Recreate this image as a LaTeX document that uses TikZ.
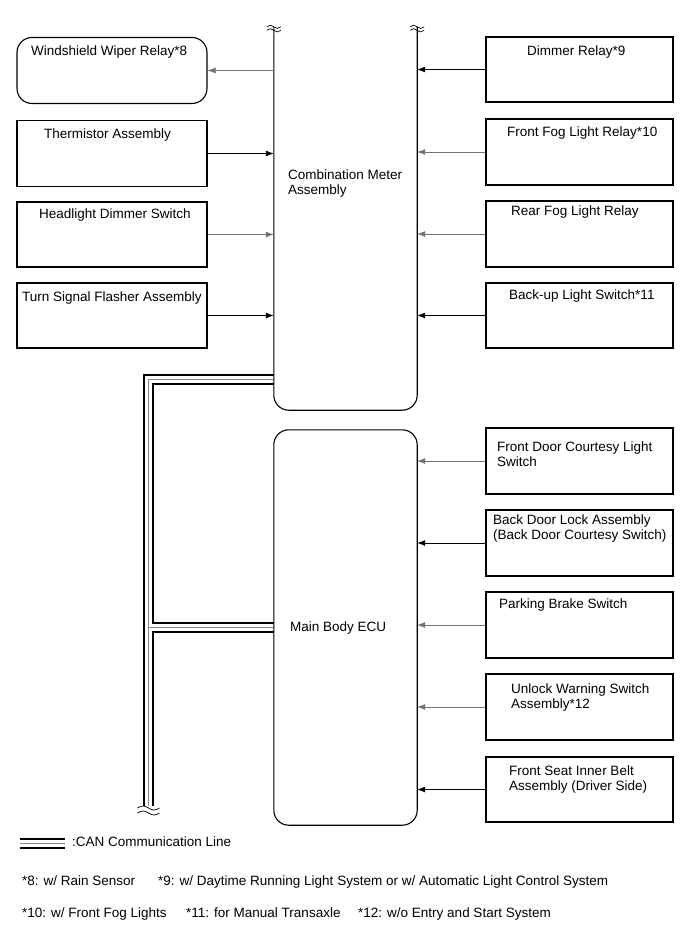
\documentclass[tikz,border=0pt]{standalone}
\usepackage{fontspec}
\setmainfont{Liberation Sans}
\usetikzlibrary{arrows.meta}
\begin{document}
\begin{tikzpicture}[x=1pt,y=-1pt,
  lbox/.style={draw, line width=1.1pt, minimum width=190pt, minimum height=66pt, inner sep=0pt},
  rbox/.style={draw, line width=1.1pt, minimum width=187pt, minimum height=66pt, inner sep=0pt},
  lbl/.style={anchor=north west, inner sep=0pt, font=\fontsize{13.5}{14.5}\selectfont, align=left},
  arr/.style={line width=0.8pt, -{Latex[length=8pt,width=6pt]}},
  garr/.style={arr, draw=black!55},
  brk/.pic={\draw[line width=0.7pt] (-7,0) sin (-3.5,-1.6) cos (0,0) sin (3.5,1.6) cos (7,0);
            \draw[line width=0.7pt] (-7,3.5) sin (-3.5,1.9) cos (0,3.5) sin (3.5,5.1) cos (7,3.5);},
  bbrk/.pic={\draw[line width=0.7pt] (-11,0) sin (-5.5,-2) cos (0,0) sin (5.5,2) cos (11,0);
            \draw[line width=0.7pt] (-11,5) sin (-5.5,3) cos (0,5) sin (5.5,7) cos (11,5);}
]
\useasboundingbox[fill=white] (0,0) rectangle (691,952);

% central units
\node[draw=none, minimum width=143pt, minimum height=383pt, inner sep=0pt] (meter) at (345.5,218.5) {};
\node[draw=none, minimum width=143pt, minimum height=395pt, inner sep=0pt] (ecu) at (345.5,627.5) {};

% CAN communication line
\coordinate (canTop) at (148.5,379);
\coordinate (canBr) at (148.5,627);
\coordinate (canBot) at (148.5,806);
\coordinate (legA) at (20,843);
\coordinate (legB) at (65,843);
\foreach \w/\c in {11/black,7/white,1/black!45}{
  \draw[line width=\w pt, draw=\c, line join=miter] (meter.west |- canTop) -- (canTop) -- (canBot);
  \draw[line width=\w pt, draw=\c] (canBr) -- (ecu.west |- canBr);
  \draw[line width=\w pt, draw=\c] (legA) -- (legB);
}
\pic at (148.5,808) {bbrk};

% meter outline (open top) and ECU outline
\draw[line width=1.1pt, rounded corners=15pt] (meter.north west) -- (meter.south west) -- (meter.south east) -- (meter.north east);
\pic at (meter.north west) {brk};
\pic at (meter.north east) {brk};
\draw[line width=1.1pt, rounded corners=15pt] (ecu.south west) rectangle (ecu.north east);

\node[lbl] (meterT) at (288,170) {Combination Meter\\Assembly};
\node[lbl] (ecuT) at (290,622) {Main Body ECU};

% left boxes
\node[lbox, rounded corners=15pt] (wiper) at (112,70.5) {};
\node[lbox] (therm) at (112,153.5) {};
\node[lbox, minimum height=65pt] (head) at (112,234.5) {};
\node[lbox, minimum height=65pt] (turn) at (112,315.5) {};
\node[lbl] (wiperT) at (31,46) {Windshield Wiper Relay*8};
\node[lbl] (thermT) at (44,129) {Thermistor Assembly};
\node[lbl] (headT) at (39,209) {Headlight Dimmer Switch};
\node[lbl] (turnT) at (22,292) {Turn Signal Flasher Assembly};

% right boxes
\node[rbox, minimum height=65pt] (dim) at (579.5,69.5) {};
\node[rbox] (ffog) at (579.5,152) {};
\node[rbox] (rfog) at (579.5,234) {};
\node[rbox, minimum height=65pt] (back) at (579.5,315.5) {};
\node[rbox] (fdoor) at (579.5,461) {};
\node[rbox] (bdoor) at (579.5,543) {};
\node[rbox] (park) at (579.5,625) {};
\node[rbox] (unlock) at (579.5,707) {};
\node[rbox, minimum height=65pt] (seat) at (579.5,789.5) {};
\node[lbl] (dimT) at (527,46) {Dimmer Relay*9};
\node[lbl] (ffogT) at (507,127) {Front Fog Light Relay*10};
\node[lbl] (rfogT) at (511,206) {Rear Fog Light Relay};
\node[lbl] (backT) at (509,290) {Back-up Light Switch*11};
\node[lbl] (fdoorT) at (497,442) {Front Door Courtesy Light\\Switch};
\node[lbl] (bdoorT) at (493,515) {Back Door Lock Assembly\\(Back Door Courtesy Switch)};
\node[lbl] (parkT) at (499,599) {Parking Brake Switch};
\node[lbl] (unlockT) at (511,684) {Unlock Warning Switch\\Assembly*12};
\node[lbl] (seatT) at (509,766) {Front Seat Inner Belt\\Assembly (Driver Side)};

% connectors
\draw[garr] (meter.west |- wiper.east) -- (wiper.east);
\draw[arr] (therm.east) -- (therm.east -| meter.west);
\draw[garr] (head.east) -- (head.east -| meter.west);
\draw[arr] (turn.east) -- (turn.east -| meter.west);
\draw[arr] (dim.west) -- (dim.west -| meter.east);
\draw[garr] (ffog.west) -- (ffog.west -| meter.east);
\draw[garr] (rfog.west) -- (rfog.west -| meter.east);
\draw[arr] (back.west) -- (back.west -| meter.east);
\draw[garr] (fdoor.west) -- (fdoor.west -| ecu.east);
\draw[arr] (bdoor.west) -- (bdoor.west -| ecu.east);
\draw[garr] (park.west) -- (park.west -| ecu.east);
\draw[garr] (unlock.west) -- (unlock.west -| ecu.east);
\draw[arr] (seat.west) -- (seat.west -| ecu.east);

% legend and notes
\node[lbl] (legT) at (72,837) {:CAN Communication Line};
\node[lbl] (n8) at (22,876) {*8: w/ Rain Sensor};
\node[lbl] (n9) at (158,876) {*9: w/ Daytime Running Light System or w/ Automatic Light Control System};
\node[lbl] (n10) at (22,908) {*10: w/ Front Fog Lights};
\node[lbl] (n11) at (186,908) {*11: for Manual Transaxle};
\node[lbl] (n12) at (358,908) {*12: w/o Entry and Start System};
\end{tikzpicture}
\end{document}
